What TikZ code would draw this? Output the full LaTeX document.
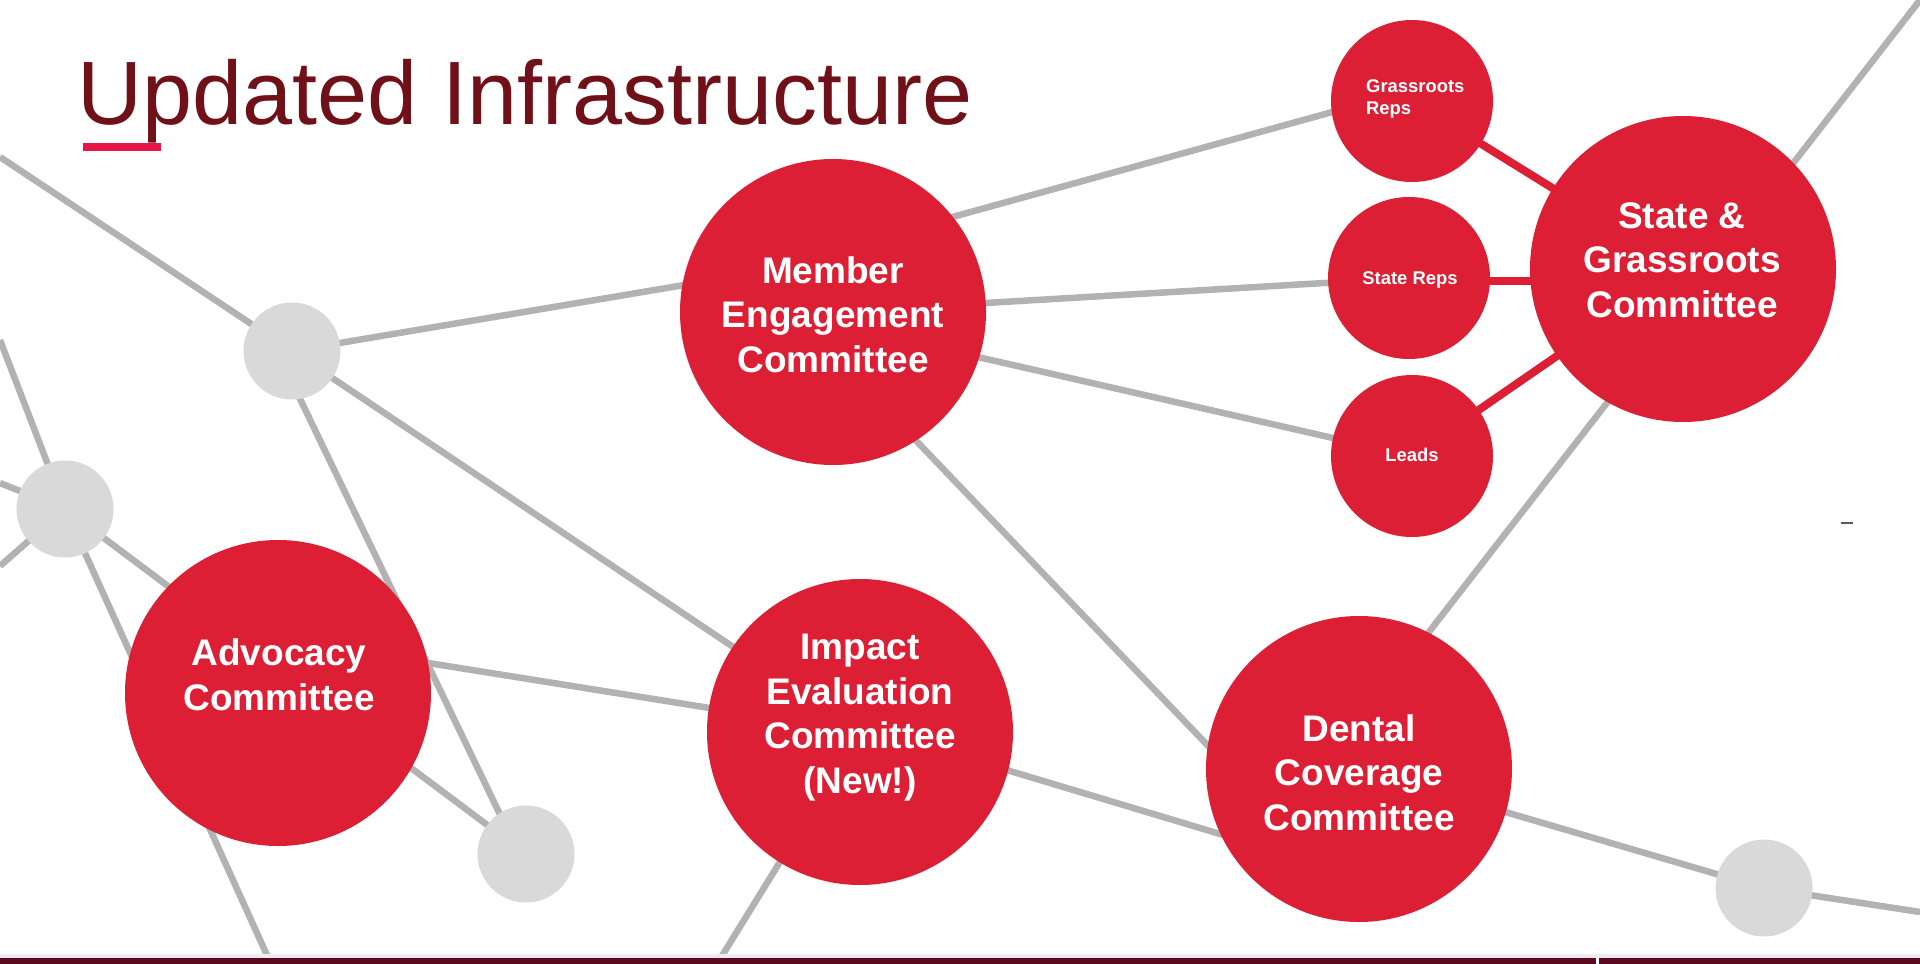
\documentclass[tikz,border=0pt]{standalone}
\usepackage{fontspec}
\setmainfont{Liberation Sans}
\usetikzlibrary{calc}
\definecolor{cred}{RGB}{220,31,53}
\definecolor{cgrayline}{RGB}{178,178,178}
\definecolor{cgraynode}{RGB}{217,217,217}
\definecolor{ctitle}{RGB}{112,16,24}
\definecolor{cunder}{RGB}{232,22,72}
\definecolor{cbar}{RGB}{92,8,30}
\definecolor{cdash}{RGB}{90,90,90}
\pgfdeclarelayer{back}
\pgfdeclarelayer{bg}
\pgfsetlayers{back,bg,main}
\begin{document}
\begin{tikzpicture}[x=1pt,y=-1pt,
  big/.style={circle,fill=cred,inner sep=0pt,minimum size=306pt},
  small/.style={circle,fill=cred,inner sep=0pt,minimum size=162pt},
  dot/.style={circle,fill=cgraynode,inner sep=0pt,minimum size=97pt},
  link/.style={draw=cgrayline,line width=6.5pt},
  redlink/.style={draw=cred,line width=8pt},
  bigtxt/.style={text=white,font=\fontsize{37}{44.5}\selectfont\bfseries,align=center,inner sep=0pt,anchor=base},
  smalltxt/.style={text=white,font=\fontsize{18.4}{22}\selectfont\bfseries,align=center,inner sep=0pt,anchor=base},
]
\begin{pgfonlayer}{back}
\fill[white] (0,0) rectangle (1920,964);
\end{pgfonlayer}
\useasboundingbox (0,0) rectangle (1920,964);

% circles
\node[big] (me) at (833,312) {};
\node[big] (adv) at (278,693) {};
\node[big] (imp) at (860,732) {};
\node[big] (den) at (1359,769) {};
\node[big] (sg) at (1683,269) {};
\node[small] (gr) at (1412,101) {};
\node[small] (sr) at (1409,278) {};
\node[small] (ld) at (1412,456) {};
\node[dot] (g1) at (292,351) {};
\node[dot] (g2) at (65,509) {};
\node[dot] (g3) at (526,854) {};
\node[dot] (g4) at (1764,888) {};

% labels (base = baseline of last line)
\node[bigtxt] (meT) at (833,372) {Member\\Engagement\\Committee};
\node[bigtxt] (advT) at (279,710) {Advocacy\\Committee};
\node[bigtxt] (impT) at (860,793) {Impact\\Evaluation\\Committee\\(New!)};
\node[bigtxt] (denT) at (1359,830) {Dental\\Coverage\\Committee};
\node[bigtxt] (sgT) at (1682,317) {State \&\\Grassroots\\Committee};
\node[smalltxt,align=left,anchor=base west] (grT) at (1366,114) {Grassroots\\Reps};
\node[smalltxt] (srT) at (1410,284) {State Reps};
\node[smalltxt] (ldT) at (1412,461) {Leads};

% free ends
\coordinate (eA) at (0,157);
\coordinate (eB) at (0,340);
\coordinate (eC) at (0,483);
\coordinate (eD) at (0,566);
\coordinate (eE) at (271,964);
\coordinate (eF) at (717,964);
\coordinate (eG) at (1920,0);
\coordinate (eH) at (1920,912);

\begin{pgfonlayer}{bg}
\draw[link] (eA) -- (g1.center) -- (imp.center);
\draw[link] (g1.center) -- ($(me)+(0,-52)$);
\draw[link] ($(g1)+(-15,0)$) -- ($(g3)+(-7,0)$);
\draw[link] (eB) -- (g2.center) -- (eE);
\draw[link] (eC) -- (g2.center) -- (g3.center);
\draw[link] (eD) -- (g2.center);
\draw[link] (imp.center) -- ($(adv)+(0,-54)$);
\draw[link] (imp.center) -- (eF);
\draw[link] ($(imp)+(0,-6)$) -- ($(den)+(-59,89)$);
\draw[link] ($(me)+(0,-62)$) -- ($(gr)+(0,-11)$);
\draw[link] (me.center) -- (sr.center);
\draw[link] ($(me)+(0,12)$) -- (ld.center);
\draw[link] ($(me)+(-40,0)$) -- ($(den)+(-79,52)$);
\draw[link] ($(den)+(21,-74)$) -- (eG);
\draw[link] (den.center) -- (g4.center) -- (eH);
\draw[redlink] (gr.center) -- (sg.center);
\draw[redlink] ($(sr)+(0,3)$) -- ($(sg)+(0,12)$);
\draw[redlink] (ld.center) -- (sg.center);
\end{pgfonlayer}

% title
\node[anchor=base west,inner sep=0pt,text=ctitle,font=\fontsize{90}{108}\selectfont] (title) at (77,124) {Updated Infrastructure};
\fill[cunder] (83,143) rectangle (161,151);

% bottom bar
\fill[cbar!8] (0,954) rectangle (1920,958);
\fill[cbar] (0,958) rectangle (1596,964);
\fill[cbar] (1599,958) rectangle (1920,964);

% small dash
\draw[cdash,line width=2pt] (1841,523) -- (1853,523);
\end{tikzpicture}
\end{document}
